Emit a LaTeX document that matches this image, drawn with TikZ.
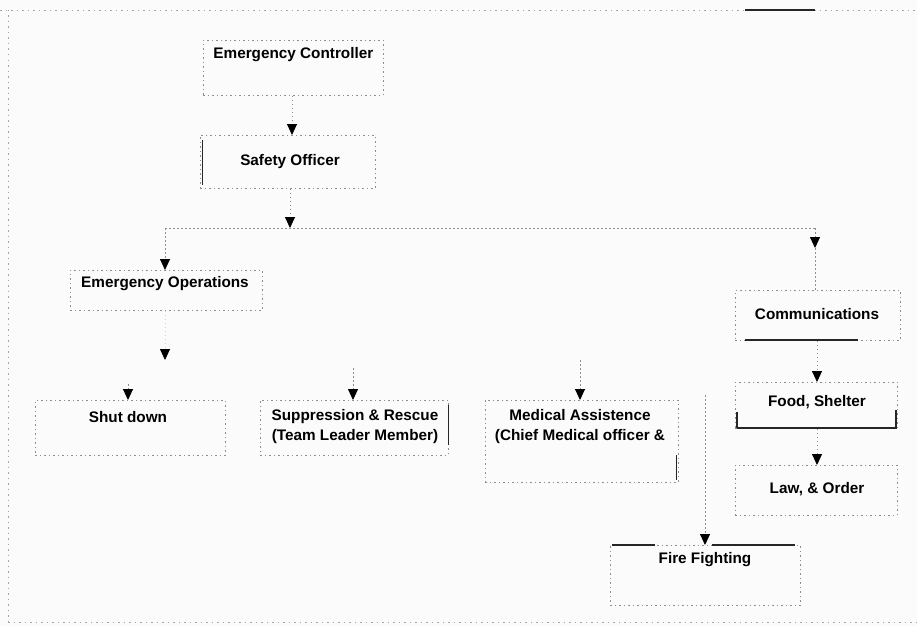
\documentclass[tikz,border=0pt]{standalone}
\usepackage{fontspec}
\setmainfont{Liberation Sans}
\usetikzlibrary{arrows.meta}
\definecolor{bgc}{HTML}{FBFBFB}
\definecolor{edge}{HTML}{8E8E8E}
\tikzset{
  box/.style={draw=edge, line width=0.8pt, dash pattern=on 1.5pt off 3pt, anchor=north west, inner sep=0pt},
  lbl/.style={font=\fontsize{15.3}{20}\selectfont\bfseries, text=black, align=center, inner sep=1pt},
  conn/.style={draw=edge, line width=0.9pt, dash pattern=on 1.5pt off 2.5pt},
  arr/.style={conn, -{Triangle[black, width=10pt, length=11pt]}},
  solidseg/.style={draw=black!85, line width=1.4pt},
  frame/.style={draw=edge!80, line width=0.8pt, dash pattern=on 1.5pt off 4pt}
}
\begin{document}
\begin{tikzpicture}[x=1pt, y=-1pt]
\fill[bgc] (0,0) rectangle (917,626);
\useasboundingbox (0,0) rectangle (917,626);
% outer frame
\draw[frame] (0,10) -- (917,10);
\draw[frame] (8,10) -- (8,626);
\draw[frame] (8,622) -- (917,622);
\draw[solidseg] (745,10) -- (815,10);
% boxes
\node[box, minimum width=180, minimum height=55] (ec) at (203,40) {};
\node[lbl] (ect) at (ec.north |- 0,55) {Emergency Controller};
\node[box, minimum width=175, minimum height=53] (so) at (200,135) {};
\node[lbl] (sot) at (290,162) {Safety Officer};
\node[box, minimum width=192, minimum height=40] (eo) at (70,270) {};
\node[lbl] (eot) at (165,284) {Emergency Operations};
\node[box, minimum width=165, minimum height=50] (comm) at (735,290) {};
\node[lbl] (commt) at (817,314) {Communications};
\node[box, minimum width=162, minimum height=46] (food) at (735,382) {};
\node[lbl] (foodt) at (817,402) {Food, Shelter};
\node[box, minimum width=162, minimum height=50] (law) at (735,465) {};
\node[lbl] (lawt) at (817,489) {Law, \& Order};
\node[box, minimum width=190, minimum height=55] (sd) at (35,400) {};
\node[lbl] (sdt) at (128,417) {Shut down};
\node[box, minimum width=188, minimum height=55] (sr) at (260,400) {};
\node[lbl] (srt) at (355,427) {Suppression \& Rescue\\(Team Leader Member)};
\node[box, minimum width=193, minimum height=82] (med) at (485,400) {};
\node[lbl] (medt) at (580,427) {Medical Assistence\\(Chief Medical officer \&};
\node[box, minimum width=190, minimum height=60] (ff) at (610,545) {};
\node[lbl] (fft) at (705,560) {Fire Fighting};
% scan-like solid edge segments
\draw[solidseg] (745,340) -- (858,340);
\draw[solidseg] (737,428) -- (896,428) -- (896,410);
\draw[solidseg] (737,428) -- (737,412);
\draw[solidseg] (612,545) -- (655,545);
\draw[solidseg] (712,545) -- (795,545);
\draw[solidseg, line width=1pt] (202,140) -- (202,185);
\draw[solidseg, line width=1pt] (676,455) -- (676,480);
\draw[solidseg, line width=1pt] (448,405) -- (448,445);
% junction coordinates
\coordinate (busL) at (165,228);
\coordinate (busM) at (290,228);
\coordinate (busR) at (815,228);
\coordinate (commIn) at (815,248);
\coordinate (eoOut) at (165,360);
\coordinate (sdIn) at (128,384);
\coordinate (srIn) at (353,368);
\coordinate (medIn) at (580,360);
\coordinate (ffIn) at (705,395);
% connectors
\draw[arr] (ec.south -| 292,0) -- (so.north -| 292,0);
\draw[arr] (so.south -| 290,0) -- (busM);
\draw[conn] (busL) -- (busR);
\draw[arr] (busL) -- (eo.north -| busL);
\draw[arr] (busR) -- (commIn);
\draw[conn] (commIn) -- (comm.north -| commIn);
\draw[arr] (comm.south -| 817,0) -- (food.north -| 817,0);
\draw[arr] (food.south -| 817,0) -- (law.north -| 817,0);
\draw[arr, draw=edge!40] (eo.south -| eoOut) -- (eoOut);
\draw[arr] (sdIn) -- (sd.north -| sdIn);
\draw[arr] (srIn) -- (sr.north -| srIn);
\draw[arr] (medIn) -- (med.north -| medIn);
\draw[arr] (ffIn) -- (ff.north -| ffIn);
\end{tikzpicture}
\end{document}
